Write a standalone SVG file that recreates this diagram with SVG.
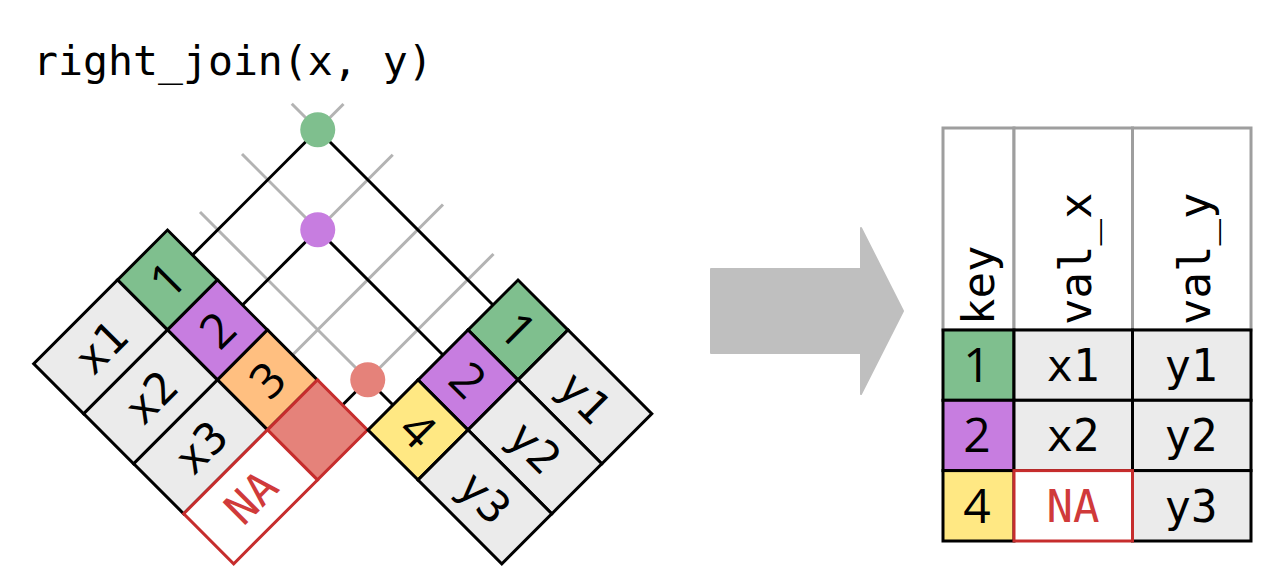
<svg xmlns="http://www.w3.org/2000/svg" width="1266" height="579" viewBox="0 0 1266 579">
<style>
.cell{stroke:#000;stroke-width:3;stroke-linejoin:miter}
.hdr{fill:#fff;stroke:#9e9e9e;stroke-width:3}
.val{fill:#ebebeb}
.k1{fill:#7fbf8e}.k2{fill:#c77de0}.k3{fill:#ffbf80}.k4{fill:#ffe883}
.redk{fill:#e5827a;stroke:#c62d2d;stroke-width:3}
.nacell{fill:#fff;stroke:#c62d2d;stroke-width:3}
.mono{font-family:"DejaVu Sans Mono","Liberation Mono",monospace;font-size:44px;fill:#000}
.sans{font-family:"Open Sans","Noto Sans","Liberation Sans",sans-serif;font-size:48px;fill:#000}
.na{fill:#d03a3a}
.gl{stroke:#b3b3b3;stroke-width:3;fill:none}
.bl{stroke:#000;stroke-width:3;fill:none}
text{text-anchor:middle}
</style>

<text id="title" x="33" y="75" style="font-family:'DejaVu Sans Mono','Liberation Mono',monospace;font-size:41.5px;text-anchor:start">right_join(x, y)</text>

<g id="connectors">
  <g class="gl">
    <line x1="317.75" y1="129.75" x2="343.5" y2="104"/>
    <line x1="317.75" y1="129.75" x2="291.75" y2="103.75"/>
    <line x1="317.75" y1="229.75" x2="392.75" y2="154.75"/>
    <line x1="317.75" y1="229.75" x2="242" y2="154"/>
    <line x1="292.5" y1="355" x2="443" y2="204.5"/>
    <line x1="367.75" y1="379.75" x2="493.5" y2="254"/>
    <line x1="367.75" y1="379.75" x2="200" y2="212"/>
  </g>
  <g class="bl">
    <line x1="192.5" y1="255" x2="317.75" y2="129.75"/>
    <line x1="242.5" y1="305" x2="317.75" y2="229.75"/>
    <line x1="342.5" y1="405" x2="367.75" y2="379.75"/>
    <line x1="493" y1="305" x2="317.75" y2="129.75"/>
    <line x1="443" y1="355" x2="317.75" y2="229.75"/>
    <line x1="393" y1="405" x2="367.75" y2="379.75"/>
  </g>
</g>

<g id="dots">
  <circle id="dot1" cx="317.75" cy="129.75" r="17.5" fill="#7fbf8e"/>
  <circle id="dot2" cx="317.75" cy="229.75" r="17.5" fill="#c77de0"/>
  <circle id="dot4" cx="367.75" cy="379.75" r="17.5" fill="#e5827a"/>
</g>

<g id="table-x">
  <g transform="translate(167.5,230) rotate(45)">
    <rect class="cell k1" x="0" y="0" width="70.7" height="70.7"/>
    <rect class="cell val" x="0" y="70.7" width="70.7" height="118.5"/>
    <rect class="cell k2" x="70.7" y="0" width="70.7" height="70.7"/>
    <rect class="cell val" x="70.7" y="70.7" width="70.7" height="118.5"/>
    <rect class="cell k3" x="141.4" y="0" width="70.7" height="70.7"/>
    <rect class="cell val" x="141.4" y="70.7" width="70.7" height="118.5"/>
    <rect class="redk" x="212.1" y="0" width="70.7" height="70.7"/>
    <rect class="nacell" x="212.1" y="70.7" width="70.7" height="118.5"/>
  </g>
  <g transform="translate(167.5,280) rotate(-45)"><text class="sans" y="17">1</text></g>
  <g transform="translate(217.5,330) rotate(-45)"><text class="sans" y="17">2</text></g>
  <g transform="translate(267.5,380) rotate(-45)"><text class="sans" y="17">3</text></g>
  <g transform="translate(100.6,346.9) rotate(-45)"><text class="mono" y="16">x1</text></g>
  <g transform="translate(150.6,396.9) rotate(-45)"><text class="mono" y="16">x2</text></g>
  <g transform="translate(200.6,446.9) rotate(-45)"><text class="mono" y="16">x3</text></g>
  <g transform="translate(250.6,496.9) rotate(-45)"><text class="mono na" y="16">NA</text></g>
</g>

<g id="table-y">
  <g transform="translate(518,280) rotate(45)">
    <rect class="cell k1" x="0" y="0" width="70.7" height="70.7"/>
    <rect class="cell val" x="70.7" y="0" width="118.5" height="70.7"/>
    <rect class="cell k2" x="0" y="70.7" width="70.7" height="70.7"/>
    <rect class="cell val" x="70.7" y="70.7" width="118.5" height="70.7"/>
    <rect class="cell k4" x="0" y="141.4" width="70.7" height="70.7"/>
    <rect class="cell val" x="70.7" y="141.4" width="118.5" height="70.7"/>
  </g>
  <g transform="translate(518,330) rotate(45)"><text class="sans" y="17">1</text></g>
  <g transform="translate(468,380) rotate(45)"><text class="sans" y="17">2</text></g>
  <g transform="translate(418,430) rotate(45)"><text class="sans" y="17">4</text></g>
  <g transform="translate(584.9,396.9) rotate(45)"><text class="mono" y="16">y1</text></g>
  <g transform="translate(534.9,446.9) rotate(45)"><text class="mono" y="16">y2</text></g>
  <g transform="translate(484.9,496.9) rotate(45)"><text class="mono" y="16">y3</text></g>
</g>

<g id="arrow">
  <polygon points="711,269 861,269 861,228 903,311 861,394 861,353 711,353" fill="#bfbfbf" stroke="#bfbfbf" stroke-width="2" stroke-linejoin="round"/>
</g>

<g id="result">
  <rect class="hdr" x="943" y="128" width="71" height="202"/>
  <rect class="hdr" x="1014" y="128" width="118.5" height="202"/>
  <rect class="hdr" x="1132.5" y="128" width="118.5" height="202"/>
  <text class="mono" transform="translate(994,325) rotate(-90)" style="text-anchor:start">key</text>
  <text class="mono" transform="translate(1091,325) rotate(-90)" style="text-anchor:start">val_x</text>
  <text class="mono" transform="translate(1210,325) rotate(-90)" style="text-anchor:start">val_y</text>

  <rect class="cell k1" x="943" y="330" width="71" height="70.3"/>
  <rect class="cell val" x="1014" y="330" width="118.5" height="70.3"/>
  <rect class="cell val" x="1132.5" y="330" width="118.5" height="70.3"/>
  <rect class="cell k2" x="943" y="400.3" width="71" height="70.3"/>
  <rect class="cell val" x="1014" y="400.3" width="118.5" height="70.3"/>
  <rect class="cell val" x="1132.5" y="400.3" width="118.5" height="70.3"/>
  <rect class="cell k4" x="943" y="470.6" width="71" height="70.4"/>
  <rect class="cell val" x="1132.5" y="470.6" width="118.5" height="70.4"/>
  <rect class="nacell" x="1014" y="470.6" width="118.5" height="70.4"/>

  <text class="sans" x="977" y="382">1</text>
  <text class="sans" x="977" y="452">2</text>
  <text class="sans" x="977" y="523">4</text>
  <text class="mono" x="1073" y="381">x1</text>
  <text class="mono" x="1073" y="451">x2</text>
  <text class="mono na" x="1073" y="522">NA</text>
  <text class="mono" x="1191" y="381">y1</text>
  <text class="mono" x="1191" y="451">y2</text>
  <text class="mono" x="1191" y="522">y3</text>
</g>
</svg>
